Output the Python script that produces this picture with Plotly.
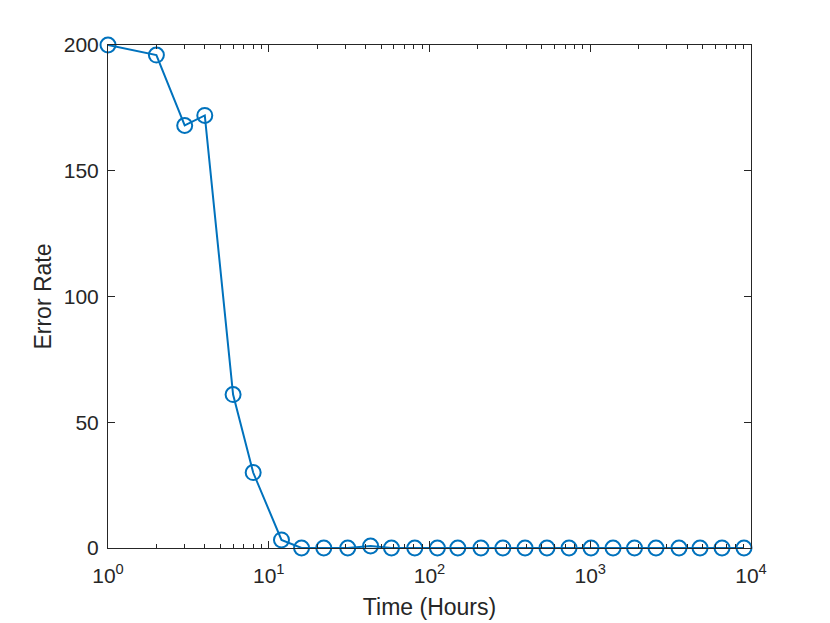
import plotly.graph_objects as go

time_hours = [1, 2, 3, 4, 6, 8, 12, 16, 22, 31, 43, 58, 81, 112, 150, 209, 286,
              393, 538, 738, 1011, 1386, 1885, 2565, 3566, 4818, 6603, 9045]
error_rate = [200, 196, 168, 172, 61, 30, 3.2, 0, 0, 0, 0.8, 0, 0, 0, 0, 0, 0,
              0, 0, 0, 0, 0, 0, 0, 0, 0, 0, 0]

x_tickvals = [1, 10, 100, 1000, 10000]
x_ticktext = ["10<sup>0</sup>", "10<sup>1</sup>", "10<sup>2</sup>", "10<sup>3</sup>", "10<sup>4</sup>"]
x_minor = [m * 10 ** d for d in range(4) for m in range(2, 10)]
y_tickvals = [0, 50, 100, 150, 200]

color = "#0072BD"
axcol = "#262626"
font = "Liberation Sans, Arial, sans-serif"

fig = go.Figure()
fig.add_trace(go.Scatter(
    x=time_hours, y=error_rate, mode="lines+markers",
    line=dict(color=color, width=2),
    marker=dict(symbol="circle-open", size=15, color=color, line=dict(width=2, color=color)),
    cliponaxis=False, showlegend=False,
))

fig.update_layout(
    width=822, height=615,
    margin=dict(l=100, r=79, t=37, b=75),
    paper_bgcolor="white", plot_bgcolor="white",
    font=dict(family=font, color=axcol, size=21),
)
fig.update_xaxes(
    type="log", range=[0, 4], automargin=False,
    tickvals=x_tickvals, ticktext=x_ticktext,
    ticks="inside", ticklen=7, tickwidth=1, tickcolor=axcol,
    minor=dict(tickvals=x_minor, ticks="inside", ticklen=4, tickcolor=axcol, showgrid=False),
    showline=True, linecolor=axcol, linewidth=1, mirror="ticks",
    showgrid=False, zeroline=False,
    tickfont=dict(size=21, color=axcol),
    ticklabelstandoff=9,
    title=dict(text="Time (Hours)", font=dict(size=23, color=axcol), standoff=12),
)
fig.update_yaxes(
    range=[0, 200], automargin=False, tickvals=y_tickvals,
    ticks="inside", ticklen=7, tickwidth=1, tickcolor=axcol,
    showline=True, linecolor=axcol, linewidth=1, mirror="ticks",
    showgrid=False, zeroline=False,
    tickfont=dict(size=21, color=axcol),
    ticklabelstandoff=4,
    title=dict(text="Error Rate", font=dict(size=23, color=axcol), standoff=5),
)

fig.write_html("out.html")
